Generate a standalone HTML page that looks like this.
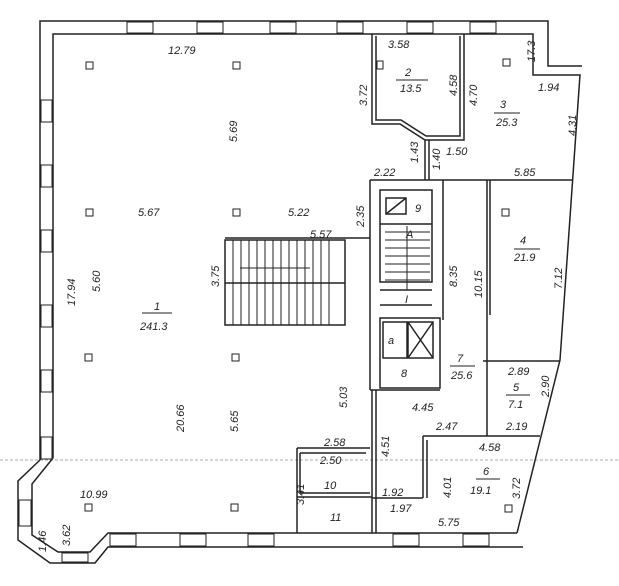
<!DOCTYPE html>
<html><head><meta charset="utf-8"><style>
html,body{margin:0;padding:0;background:#fff;}
svg{display:block;}
text{font-family:"Liberation Sans",sans-serif;font-style:italic;font-size:11px;fill:#222;}
</style></head><body>
<svg width="619" height="586" viewBox="0 0 619 586" xmlns="http://www.w3.org/2000/svg">
<rect width="619" height="586" fill="#fff"/>
<line x1="0" y1="460" x2="619" y2="460" stroke="#aaa" stroke-width="1" stroke-dasharray="3,2"/>
<g fill="none" stroke="#222" stroke-width="1.5">
<polyline points="40,460 40,21 548,21 548,66 582,66"/>
<polyline points="53,458 53,34 533,34 533,75 580,75 560,360 517,533"/>
<polyline points="40,460 18,481 18,540 50,563 95,563 108,547 523,547"/>
<polyline points="53,458 32,484 32,535 58,552 90,552 108,533 517,533"/>
<polyline points="372,34 372,124 400,124 425,140 464,140 464,34"/>
<polyline points="376,36 376,120 401,120 426,136 460,136 460,36"/>
<line x1="425" y1="140" x2="425" y2="180"/>
<line x1="429" y1="140" x2="429" y2="180"/>
<line x1="370" y1="180" x2="573" y2="180"/>
<line x1="370" y1="180" x2="370" y2="390"/>
<line x1="370" y1="390" x2="440" y2="390"/>
<rect x="380" y="190" width="52" height="92"/>
<rect x="380" y="318" width="60" height="70"/>
<rect x="383" y="322" width="24" height="36"/>
<rect x="408" y="322" width="25" height="36"/>
<line x1="408" y1="322" x2="433" y2="358"/><line x1="433" y1="322" x2="408" y2="358"/>
<rect x="386" y="198" width="20" height="16"/>
<line x1="386" y1="214" x2="406" y2="198"/>
<line x1="380" y1="224" x2="432" y2="224"/>
<line x1="380" y1="290" x2="432" y2="290"/>
<line x1="380" y1="305" x2="432" y2="305"/>
<line x1="372" y1="390" x2="372" y2="533"/><line x1="376" y1="390" x2="376" y2="533"/>
<line x1="443" y1="180" x2="443" y2="320"/>
<line x1="487" y1="180" x2="487" y2="436"/>
<line x1="490" y1="180" x2="490" y2="315"/>
<line x1="483" y1="361" x2="560" y2="361"/>
<line x1="423" y1="436" x2="540" y2="436"/>
<line x1="423" y1="436" x2="423" y2="498"/>
<line x1="427" y1="440" x2="427" y2="498"/>
<line x1="372" y1="498" x2="423" y2="498"/>
<line x1="297" y1="448" x2="370" y2="448"/>
<line x1="300" y1="453" x2="366" y2="453"/>
<line x1="300" y1="453" x2="300" y2="493"/>
<line x1="297" y1="448" x2="297" y2="533"/>
<line x1="300" y1="493" x2="370" y2="493"/>
<line x1="297" y1="497" x2="372" y2="497"/>
<rect x="225" y="240" width="120" height="85"/>
<line x1="225" y1="283" x2="345" y2="283"/>
<line x1="225" y1="238" x2="370" y2="238"/>
</g>
<g stroke="#222" stroke-width="1">
<path d="M233 240V325M241 240V325M249 240V325M257 240V325M265 240V325M273 240V325M281 240V325M289 240V325M297 240V325M305 240V325M313 240V325M321 240V325M329 240V325"/>
<path d="M385 232H430M385 240H430M385 248H430M385 256H430M385 264H430M385 272H430M385 280H430M407 226V290"/>
<line x1="240" y1="268" x2="310" y2="268"/>
</g>
<g fill="#fff" stroke="#222" stroke-width="1">
<rect x="86" y="62" width="7" height="7"/><rect x="233" y="62" width="7" height="7"/>
<rect x="86" y="209" width="7" height="7"/><rect x="233" y="209" width="7" height="7"/>
<rect x="85" y="354" width="7" height="7"/><rect x="232" y="354" width="7" height="7"/>
<rect x="85" y="504" width="7" height="7"/><rect x="231" y="504" width="7" height="7"/>
<rect x="502" y="209" width="7" height="7"/><rect x="505" y="505" width="7" height="7"/>
<rect x="503" y="59" width="7" height="7"/><rect x="377" y="61" width="6" height="8"/>
</g>
<g fill="#fff" stroke="#222" stroke-width="1">
<rect x="127" y="22" width="26" height="11"/><rect x="197" y="22" width="26" height="11"/><rect x="270" y="22" width="26" height="11"/><rect x="337" y="22" width="26" height="11"/><rect x="407" y="22" width="26" height="11"/><rect x="470" y="22" width="26" height="11"/>
<rect x="41" y="100" width="11" height="22"/><rect x="41" y="165" width="11" height="22"/><rect x="41" y="230" width="11" height="22"/><rect x="41" y="305" width="11" height="22"/><rect x="41" y="370" width="11" height="22"/><rect x="41" y="437" width="11" height="22"/>
<rect x="110" y="534" width="26" height="12"/><rect x="180" y="534" width="26" height="12"/><rect x="248" y="534" width="26" height="12"/><rect x="393" y="534" width="26" height="12"/><rect x="463" y="534" width="26" height="12"/>
<rect x="19" y="500" width="12" height="26"/><rect x="62" y="553" width="26" height="9"/>
</g>
<g>
<text x="168" y="54">12.79</text>
<text x="388" y="48">3.58</text>
<text x="405" y="76">2</text><line x1="396" y1="80" x2="428" y2="80" stroke="#222"/>
<text x="400" y="92">13.5</text>
<text x="500" y="108">3</text><line x1="494" y1="113" x2="520" y2="113" stroke="#222"/>
<text x="496" y="126">25.3</text>
<text x="538" y="91">1.94</text>
<text x="138" y="216">5.67</text><text x="288" y="216">5.22</text>
<text x="310" y="238">5.57</text>
<text x="374" y="176">2.22</text><text x="514" y="176">5.85</text><text x="446" y="155">1.50</text>
<text x="415" y="212" font-size="14">9</text><text x="406" y="238" font-size="13">A</text>
<text x="520" y="244">4</text><line x1="514" y1="249" x2="540" y2="249" stroke="#222"/>
<text x="514" y="261">21.9</text>
<text x="405" y="303" font-size="13">I</text>
<text x="154" y="310">1</text><line x1="142" y1="313" x2="172" y2="313" stroke="#222"/>
<text x="140" y="330">241.3</text>
<text x="388" y="344" font-size="13">a</text>
<text x="457" y="362">7</text><line x1="450" y1="366" x2="475" y2="366" stroke="#222"/>
<text x="451" y="379">25.6</text>
<text x="401" y="377" font-size="13">8</text>
<text x="508" y="375">2.89</text>
<text x="513" y="391">5</text><line x1="506" y1="395" x2="530" y2="395" stroke="#222"/>
<text x="508" y="408">7.1</text>
<text x="412" y="411">4.45</text><text x="436" y="430">2.47</text><text x="506" y="430">2.19</text><text x="479" y="451">4.58</text>
<text x="324" y="446">2.58</text><text x="320" y="464">2.50</text>
<text x="324" y="489">10</text><text x="382" y="496">1.92</text><text x="390" y="512">1.97</text>
<text x="483" y="475">6</text><line x1="476" y1="479" x2="500" y2="479" stroke="#222"/>
<text x="470" y="494">19.1</text>
<text x="80" y="498">10.99</text><text x="330" y="521">11</text><text x="438" y="526">5.75</text>
<g transform="rotate(-90)">
<text x="-142" y="237">5.69</text>
<text x="-106" y="367">3.72</text>
<text x="-96" y="457">4.58</text>
<text x="-106" y="477">4.70</text>
<text x="-136" y="576">4.31</text>
<text x="-62" y="535">17.3</text>
<text x="-163" y="418">1.43</text>
<text x="-170" y="440">1.40</text>
<text x="-227" y="364">2.35</text>
<text x="-306" y="75">17.94</text>
<text x="-292" y="100">5.60</text>
<text x="-287" y="219">3.75</text>
<text x="-287" y="457">8.35</text>
<text x="-298" y="482">10.15</text>
<text x="-289" y="562">7.12</text>
<text x="-432" y="184">20.66</text>
<text x="-432" y="238">5.65</text>
<text x="-408" y="347">5.03</text>
<text x="-397" y="549">2.90</text>
<text x="-457" y="389">4.51</text>
<text x="-498" y="451">4.01</text>
<text x="-499" y="520">3.72</text>
<text x="-505" y="304">3.41</text>
<text x="-546" y="70">3.62</text>
<text x="-552" y="46">1.46</text>
</g>
</g>
</svg>
</body></html>
